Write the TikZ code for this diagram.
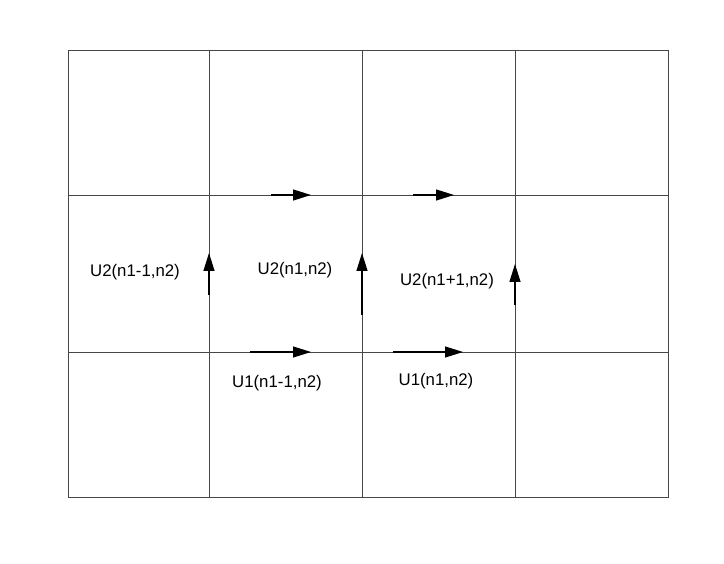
\documentclass[tikz,border=0pt]{standalone}
\usepackage{fontspec}
\setmainfont{Liberation Sans}
\usetikzlibrary{arrows.meta}
\begin{document}
\begin{tikzpicture}[x=1pt,y=-1pt,
  gridline/.style={draw=black!72,line width=0.9pt},
  flow/.style={draw=black,line width=1.3pt,-{Triangle[length=18pt,width=11pt]}},
  lbl/.style={font=\fontsize{16.8}{18}\selectfont,inner sep=0pt}]
\useasboundingbox (0,0) rectangle (724,564);
% grid
\draw[gridline] (68,50) rectangle (668,497);
\foreach \x in {209,362,515} \draw[gridline] (\x,50) -- (\x,497);
\foreach \y in {195,352} \draw[gridline] (68,\y) -- (668,\y);
% arrow coordinates
\coordinate (h1s) at (271,195); \coordinate (h1e) at (311,195);
\coordinate (h2s) at (413,195); \coordinate (h2e) at (454,195);
\coordinate (h3s) at (250,352); \coordinate (h3e) at (311,352);
\coordinate (h4s) at (393,352); \coordinate (h4e) at (463,352);
\coordinate (v1s) at (209,295); \coordinate (v1e) at (209,253);
\coordinate (v2s) at (362,315); \coordinate (v2e) at (362,253);
\coordinate (v3s) at (515,305); \coordinate (v3e) at (515,264);
\draw[flow] (h1s) -- (h1e);
\draw[flow] (h2s) -- (h2e);
\draw[flow] (h3s) -- (h3e);
\draw[flow] (h4s) -- (h4e);
\draw[flow] (v1s) -- (v1e);
\draw[flow] (v2s) -- (v2e);
\draw[flow] (v3s) -- (v3e);
% labels
\node[lbl] (a) at (135,272) {U2(n1-1,n2)};
\node[lbl] (b) at (295,270) {U2(n1,n2)};
\node[lbl] (c) at (447,281) {U2(n1+1,n2)};
\node[lbl] (d) at (277,383) {U1(n1-1,n2)};
\node[lbl] (e) at (436,381) {U1(n1,n2)};
\end{tikzpicture}
\end{document}
